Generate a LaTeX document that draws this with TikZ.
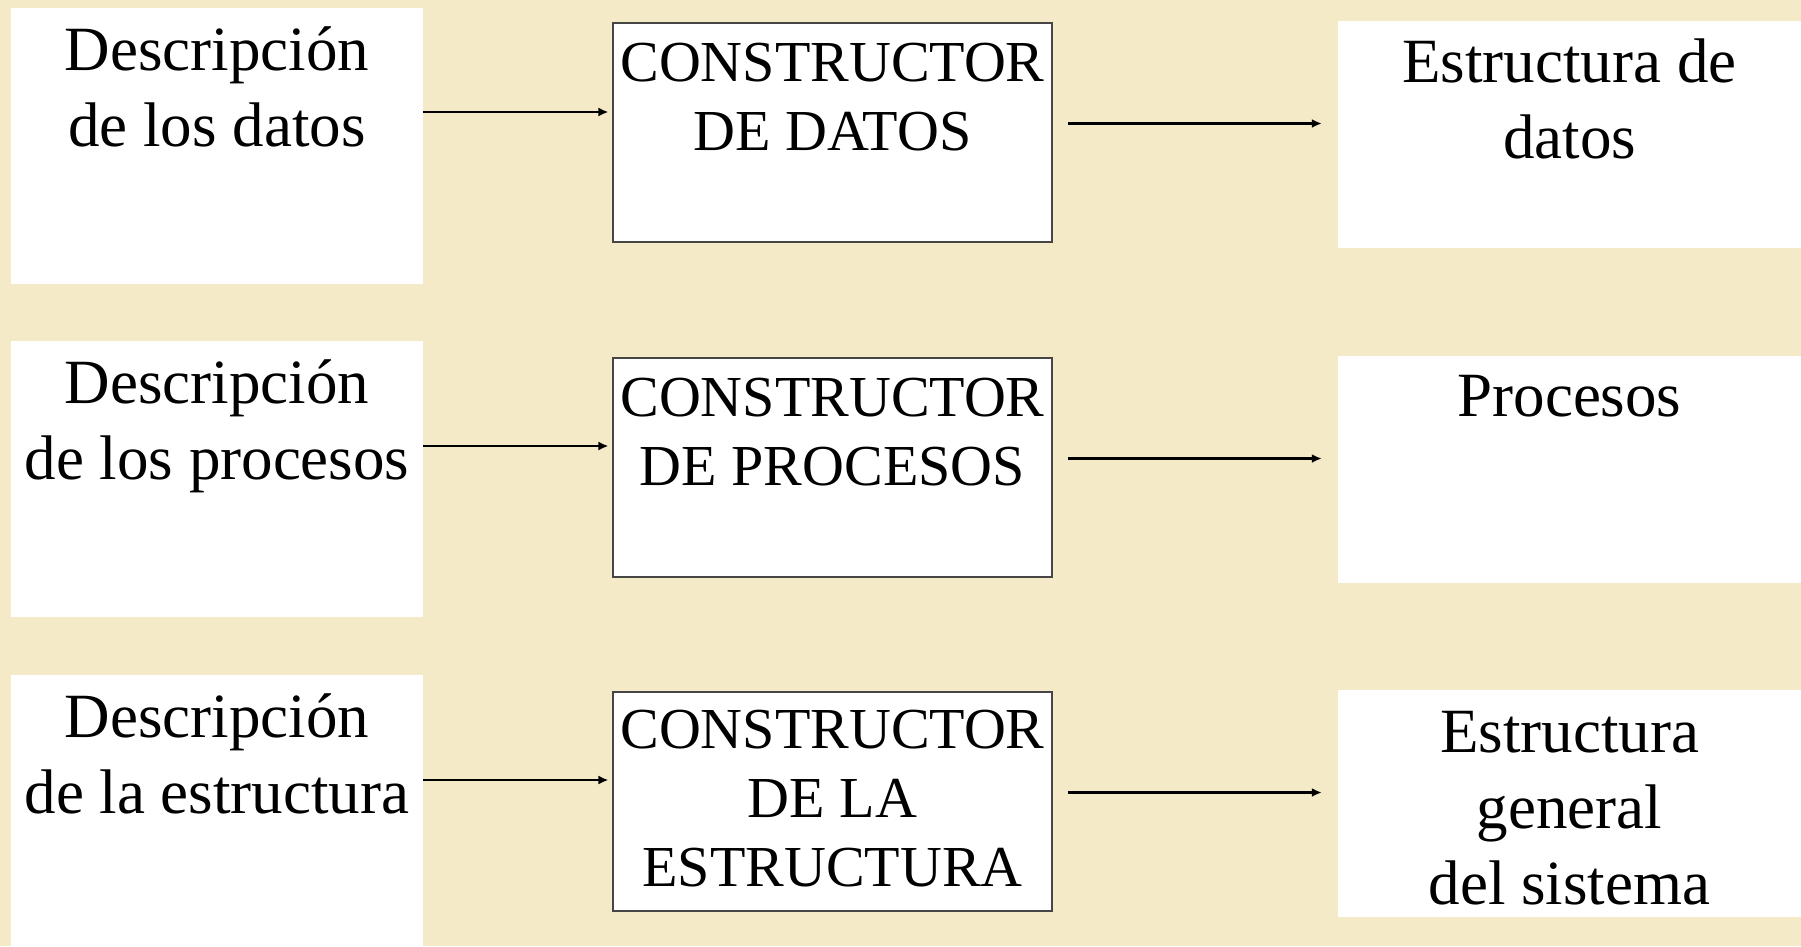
\documentclass[tikz,border=0pt]{standalone}
\usepackage{fontspec}
\setmainfont{Liberation Serif}
\usepackage{tikz}
\usetikzlibrary{arrows.meta}
\definecolor{papel}{RGB}{244,234,200}
\definecolor{borde}{RGB}{70,70,70}
\newcommand{\arriba}[1]{\rule{0pt}{#1}}

\begin{document}
\begin{tikzpicture}[x=1pt,y=-1pt,
  caja/.style={fill=white,inner sep=0pt},
  desc/.style={caja,minimum width=412pt,minimum height=276pt},
  cons/.style={caja,draw=borde,line width=1.1pt,minimum width=439pt,minimum height=219pt},
  res/.style={caja,minimum width=463pt,minimum height=227pt},
  txt/.style={align=center,anchor=north,inner sep=0pt,font=\fontsize{63}{76}\selectfont},
  txtc/.style={txt,font=\fontsize{58}{69}\selectfont},
  flecha/.style={-{Latex[length=10pt,width=9pt]},line width=2.2pt}]
\clip (0,0) rectangle (1801,946);
\fill [papel] (0,0) rectangle (1801,946);

\node [desc] (desc1) at(217,146){};
\node [desc] (desc2) at(217,479){};
\node [desc] (desc3) at(217,813){};

\node [cons] (cons1) at(832.5,132.5){};
\node [cons] (cons2) at(832.5,467.5){};
\node [cons] (cons3) at(832.5,801.5){};

\node [res] (res1) at(1569.5,134.5){};
\node [res] (res2) at(1569.5,469){};
\node [res] (res3) at(1569.5,803.5){};

\node [txt] (desc1t) at(desc1.north){\arriba{62pt}Descripción\\de los datos};
\node [txt] (desc2t) at(desc2.north){\arriba{62pt}Descripción\\de los procesos};
\node [txt] (desc3t) at(desc3.north){\arriba{62pt}Descripción\\de la estructura};

\node [txtc] (cons1t) at(cons1.north){\arriba{59pt}CONSTRUCTOR\\DE DATOS};
\node [txtc] (cons2t) at(cons2.north){\arriba{59pt}CONSTRUCTOR\\DE PROCESOS};
\node [txtc] (cons3t) at(cons3.north){\arriba{57pt}CONSTRUCTOR\\DE LA\\ESTRUCTURA};

\node [txt] (res1t) at(res1.north){\arriba{61pt}Estructura de\\datos};
\node [txt] (res2t) at(res2.north){\arriba{61pt}Procesos};
\node [txt] (res3t) at(res3.north){\arriba{62pt}Estructura\\general\\del sistema};

\draw[flecha,shorten >=4pt] ([yshift=34pt]desc1.east) -- ([yshift=34pt]desc1.east -| cons1.west);
\draw[flecha,shorten >=4pt] ([yshift=33pt]desc2.east) -- ([yshift=33pt]desc2.east -| cons2.west);
\draw[flecha,shorten >=4pt] ([yshift=33pt]desc3.east) -- ([yshift=33pt]desc3.east -| cons3.west);
\draw[flecha,shorten <=15pt,shorten >=16pt] ([yshift=9pt]cons1.east) -- ([yshift=9pt]cons1.east -| res1.west);
\draw[flecha,shorten <=15pt,shorten >=16pt] ([yshift=9pt]cons2.east) -- ([yshift=9pt]cons2.east -| res2.west);
\draw[flecha,shorten <=15pt,shorten >=16pt] ([yshift=9pt]cons3.east) -- ([yshift=9pt]cons3.east -| res3.west);
\end{tikzpicture}
\end{document}
